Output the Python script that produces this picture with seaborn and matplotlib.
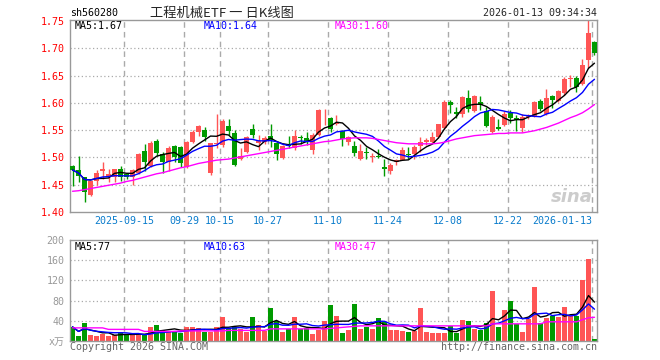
import numpy as np
import pandas as pd
import matplotlib
matplotlib.use("Agg")
import matplotlib.pyplot as plt
import seaborn as sns

# daily OHLC, 2025-09-02 .. 2026-01-13
opens = [1.485, 1.477, 1.464, 1.432, 1.457, 1.476, 1.465, 1.465, 1.478, 1.470,
         1.465, 1.472, 1.512, 1.485, 1.530, 1.507, 1.492, 1.521, 1.520, 1.483,
         1.529, 1.547, 1.550, 1.471, 1.525, 1.523, 1.558, 1.545, 1.498, 1.510,
         1.553, 1.527, 1.528, 1.540, 1.526, 1.499, 1.524, 1.517, 1.538, 1.535,
         1.514, 1.542, 1.577, 1.573, 1.561, 1.548, 1.529, 1.521, 1.497, 1.510,
         1.501, 1.502, 1.483, 1.475, 1.492, 1.496, 1.507, 1.506, 1.521, 1.528,
         1.529, 1.538, 1.554, 1.601, 1.584, 1.580, 1.609, 1.585, 1.602, 1.586,
         1.546, 1.556, 1.560, 1.581, 1.572, 1.554, 1.574, 1.575, 1.604, 1.580,
         1.612, 1.603, 1.618, 1.644, 1.646, 1.635, 1.679, 1.711]
highs = [1.487, 1.503, 1.465, 1.457, 1.477, 1.492, 1.478, 1.479, 1.485, 1.472,
         1.479, 1.509, 1.525, 1.531, 1.534, 1.510, 1.521, 1.523, 1.521, 1.531,
         1.550, 1.560, 1.555, 1.527, 1.580, 1.571, 1.570, 1.550, 1.518, 1.540,
         1.561, 1.541, 1.540, 1.562, 1.529, 1.523, 1.540, 1.551, 1.541, 1.547,
         1.545, 1.589, 1.589, 1.575, 1.578, 1.550, 1.540, 1.530, 1.524, 1.520,
         1.509, 1.516, 1.498, 1.490, 1.497, 1.519, 1.519, 1.522, 1.538, 1.536,
         1.547, 1.562, 1.605, 1.605, 1.593, 1.612, 1.623, 1.614, 1.613, 1.593,
         1.577, 1.571, 1.586, 1.587, 1.577, 1.579, 1.580, 1.604, 1.607, 1.626,
         1.614, 1.624, 1.647, 1.651, 1.650, 1.681, 1.752, 1.714]
lows = [1.448, 1.455, 1.418, 1.429, 1.450, 1.460, 1.455, 1.455, 1.456, 1.460,
        1.450, 1.470, 1.475, 1.483, 1.503, 1.472, 1.475, 1.492, 1.483, 1.481,
        1.527, 1.540, 1.530, 1.468, 1.517, 1.520, 1.541, 1.485, 1.495, 1.508,
        1.535, 1.513, 1.524, 1.520, 1.495, 1.498, 1.518, 1.514, 1.525, 1.523,
        1.506, 1.540, 1.559, 1.546, 1.559, 1.521, 1.523, 1.503, 1.495, 1.498,
        1.492, 1.499, 1.466, 1.469, 1.486, 1.495, 1.497, 1.497, 1.510, 1.523,
        1.526, 1.536, 1.553, 1.581, 1.572, 1.575, 1.583, 1.583, 1.587, 1.555,
        1.544, 1.550, 1.558, 1.564, 1.549, 1.546, 1.571, 1.574, 1.586, 1.577,
        1.591, 1.601, 1.615, 1.630, 1.620, 1.632, 1.664, 1.687]
closes = [1.477, 1.466, 1.436, 1.456, 1.472, 1.478, 1.470, 1.478, 1.465, 1.464,
          1.477, 1.507, 1.492, 1.527, 1.508, 1.492, 1.518, 1.501, 1.490, 1.529,
          1.547, 1.557, 1.537, 1.526, 1.527, 1.567, 1.549, 1.487, 1.502, 1.538,
          1.542, 1.530, 1.536, 1.532, 1.507, 1.521, 1.521, 1.540, 1.535, 1.529,
          1.541, 1.587, 1.578, 1.553, 1.564, 1.534, 1.538, 1.509, 1.512, 1.509,
          1.502, 1.501, 1.478, 1.487, 1.495, 1.513, 1.505, 1.519, 1.529, 1.532,
          1.538, 1.561, 1.602, 1.596, 1.579, 1.611, 1.589, 1.612, 1.597, 1.558,
          1.575, 1.552, 1.579, 1.572, 1.569, 1.574, 1.577, 1.601, 1.589, 1.609,
          1.606, 1.621, 1.644, 1.645, 1.630, 1.670, 1.728, 1.691]
# volume, 万
volumes = [28, 10, 36, 12, 10, 13, 10, 12, 17, 13,
           13, 12, 12, 27, 32, 21, 20, 20, 15, 28,
           27, 25, 18, 18, 27, 48, 25, 27, 23, 17,
           47, 32, 20, 65, 40, 17, 23, 48, 23, 25,
           13, 22, 39, 72, 49, 15, 22, 74, 24, 27,
           24, 46, 37, 22, 22, 20, 18, 20, 65, 18,
           16, 16, 16, 29, 16, 42, 40, 24, 22, 36,
           100, 28, 62, 80, 33, 18, 44, 107, 35, 45,
           50, 47, 68, 50, 50, 120, 162, 3]
# 30-day averages as drawn (they reach back before the first bar)
ma30_price = [1.438, 1.439, 1.441, 1.443, 1.445, 1.447, 1.449, 1.451, 1.453, 1.456,
              1.458, 1.461, 1.464, 1.467, 1.470, 1.472, 1.475, 1.478, 1.481, 1.483,
              1.486, 1.489, 1.491, 1.493, 1.495, 1.496, 1.497, 1.499, 1.501, 1.503,
              1.505, 1.507, 1.509, 1.511, 1.513, 1.515, 1.517, 1.519, 1.521, 1.523,
              1.525, 1.527, 1.529, 1.530, 1.532, 1.534, 1.535, 1.536, 1.536, 1.536,
              1.535, 1.533, 1.531, 1.529, 1.527, 1.526, 1.525, 1.525, 1.525, 1.525,
              1.525, 1.526, 1.528, 1.531, 1.534, 1.536, 1.538, 1.540, 1.541, 1.542,
              1.543, 1.544, 1.544, 1.545, 1.545, 1.545, 1.547, 1.549, 1.552, 1.555,
              1.559, 1.563, 1.568, 1.573, 1.577, 1.582, 1.589, 1.597]
ma30_vol = [26, 26, 26, 26, 26, 26, 23, 23, 23, 23,
            23, 23, 19, 19, 19, 19, 19, 19, 20, 20,
            20, 20, 20, 20, 20, 20, 21, 21, 21, 21,
            21, 21, 21, 24, 24, 24, 24, 24, 24, 24,
            24, 24, 24, 25, 26, 27, 28, 29, 30, 30,
            30, 30, 30, 30, 30, 30, 30, 30, 30, 30,
            30, 30, 30, 30, 30, 30, 30, 30, 30, 30,
            34, 34, 34, 34, 34, 34, 34, 34, 34, 38,
            38, 38, 38, 38, 38, 42, 46, 47]
tick_idx = [9, 19, 25, 33, 43, 53, 63, 73, 87]
tick_labels = ['2025-09-15', '09-29', '10-15', '10-27', '11-10',
               '11-24', '12-08', '12-22', '2026-01-13']

UP = '#ff5555'
DOWN = '#009a00'
GRID = '#aaaaaa'

sns.set_style("white")
plt.rcParams['font.family'] = ['DejaVu Sans Mono', 'Noto Sans CJK SC']
plt.rcParams['font.size'] = 7.2

df = pd.DataFrame({'open': opens, 'high': highs, 'low': lows,
                   'close': closes, 'vol': volumes,
                   'ma30': ma30_price, 'vma30': ma30_vol})
df['idx'] = np.arange(len(df))
df['ma5'] = df['close'].rolling(5, min_periods=1).mean()
df['ma10'] = df['close'].rolling(10, min_periods=1).mean()
df['vma5'] = df['vol'].rolling(5, min_periods=1).mean()
df['vma10'] = df['vol'].rolling(10, min_periods=1).mean()
colors = np.where(df['close'] >= df['open'], UP, DOWN)

W, H = 660, 360
fig = plt.figure(figsize=(W / 100, H / 100), dpi=100)
ax = fig.add_axes([70 / W, 1 - 212 / H, 527 / W, 192 / H])
axv = fig.add_axes([70 / W, 1 - 341 / H, 527 / W, 101 / H])


def px(x, y):
    return x / W, 1 - y / H


grid_x = np.array(tick_idx) - 0.42
for a in (ax, axv):
    for gx in grid_x:
        a.axvline(gx, color=GRID, lw=1, dashes=(4, 3), zorder=0)
    for s in a.spines.values():
        s.set_color('#999999')
        s.set_linewidth(1)
    a.set_xlim(-0.42, len(df) - 0.58)
    a.tick_params(length=0)

# price panel
for gy in [1.45, 1.50, 1.55, 1.60, 1.65, 1.70]:
    ax.axhline(gy, color=GRID, lw=0.9, ls=(0, (1, 2)), zorder=0)
ax.vlines(df['idx'], df['low'], df['high'], colors=colors, lw=1, zorder=2)
body = (df['close'] - df['open']).abs().clip(lower=0.0015)
ax.bar(df['idx'], body, bottom=df[['open', 'close']].min(axis=1),
       width=0.8, color=colors, lw=0, zorder=3)
sns.lineplot(data=df, x='idx', y='ma5', ax=ax, color='black', lw=1, zorder=4)
sns.lineplot(data=df, x='idx', y='ma10', ax=ax, color='#0000ff', lw=1, zorder=4)
sns.lineplot(data=df, x='idx', y='ma30', ax=ax, color='#ff00ff', lw=1, zorder=4)
ax.set_ylim(1.40, 1.752)
ax.set_yticks([1.40, 1.45, 1.50, 1.55, 1.60, 1.65, 1.70, 1.75])
ax.set_yticklabels([f'{v:.2f}' for v in ax.get_yticks()], color='red')
ax.set_xticks(grid_x)
ax.set_xticklabels(tick_labels, color='#0a7ccc')
ax.get_xticklabels()[-1].set_ha('right')
ax.tick_params(axis='y', pad=4)
ax.tick_params(axis='x', pad=3)
ax.set_xlabel('')
ax.set_ylabel('')

# volume panel
for gy in [40, 80, 120, 160]:
    axv.axhline(gy, color=GRID, lw=0.9, ls=(0, (1, 2)), zorder=0)
axv.bar(df['idx'], df['vol'], width=0.8, color=colors, lw=0, zorder=2)
sns.lineplot(data=df, x='idx', y='vma5', ax=axv, color='black', lw=1, zorder=4)
sns.lineplot(data=df, x='idx', y='vma10', ax=axv, color='#0000ff', lw=1, zorder=4)
sns.lineplot(data=df, x='idx', y='vma30', ax=axv, color='#ff00ff', lw=1, zorder=4)
axv.set_ylim(0, 200)
axv.set_yticks([0, 40, 80, 120, 160, 200])
axv.set_yticklabels(['x万', '40', '80', '120', '160', '200'], color='#999999')
axv.set_xticks([])
axv.tick_params(axis='y', pad=4)
axv.set_xlabel('')
axv.set_ylabel('')

# header and labels
fig.text(*px(70, 13), 'sh560280', va='center', color='black')
fig.text(*px(150, 13), '工程机械ETF 一 日K线图', va='center', fontsize=9.5,
         family=['Noto Sans CJK SC'])
fig.text(*px(597, 13), '2026-01-13 09:34:34', va='center', ha='right')
last = df.iloc[-1]
fig.text(*px(75, 26), f"MA5:{last['ma5']:.2f}", va='center', color='black')
fig.text(*px(204, 26), f"MA10:{last['ma10']:.2f}", va='center', color='#0000ff')
fig.text(*px(335, 26), f"MA30:{last['ma30']:.2f}", va='center', color='#ff00ff')
fig.text(*px(75, 247), f"MA5:{last['vma5']:.0f}", va='center', color='black')
fig.text(*px(204, 247), f"MA10:{last['vma10']:.0f}", va='center', color='#0000ff')
fig.text(*px(335, 247), f"MA30:{last['vma30']:.0f}", va='center', color='#ff00ff')
fig.text(*px(572, 197), 'sina', ha='center', va='center', fontsize=13,
         style='italic', weight='bold', color='#cccccc', family='DejaVu Sans')
fig.text(*px(70, 347), 'Copyright 2026 SINA.COM', va='center', color='#666666')
fig.text(*px(597, 347), 'http://finance.sina.com.cn', va='center', ha='right',
         color='#666666')

fig.savefig('out.png', dpi=100)
